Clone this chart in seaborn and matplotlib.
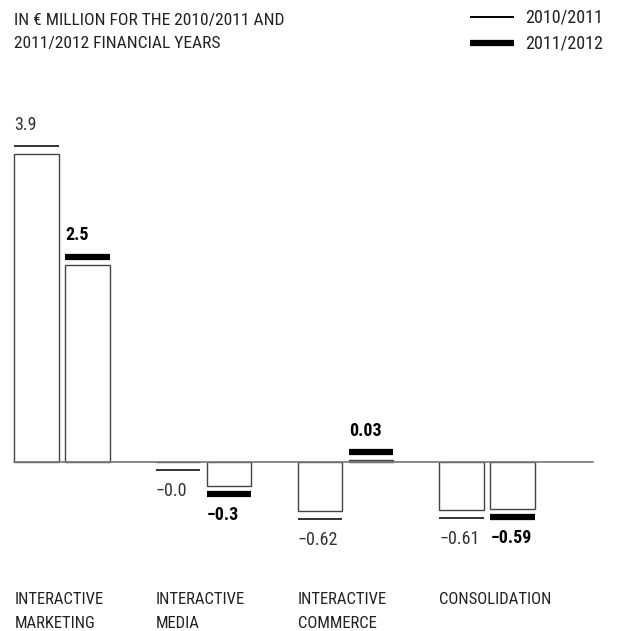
import os
import matplotlib
matplotlib.use("Agg")
import matplotlib.pyplot as plt
from matplotlib import font_manager
from matplotlib.font_manager import FontProperties
import seaborn as sns
import pandas as pd

# ---- data ----
categories = ["INTERACTIVE\nMARKETING", "INTERACTIVE\nMEDIA", "INTERACTIVE\nCOMMERCE", "CONSOLIDATION"]
years = ["2010/2011", "2011/2012"]
values_2010_2011 = [3.9, -0.0, -0.62, -0.61]
values_2011_2012 = [2.5, -0.3, 0.03, -0.59]
labels_2010_2011 = ["3.9", "\u22120.0", "\u22120.62", "\u22120.61"]
labels_2011_2012 = ["2.5", "\u22120.3", "0.03", "\u22120.59"]
title_text = "IN \u20ac MILLION FOR THE 2010/2011 AND\n2011/2012 FINANCIAL YEARS"

df = pd.DataFrame({
    "category": categories * 2,
    "year": [years[0]] * 4 + [years[1]] * 4,
    "value": values_2010_2011 + values_2011_2012,
})

sns.set_theme(style="white")
plt.rcParams["font.family"] = ["DejaVu Sans"]

# look for a condensed / narrow font file
files = [f.fname for f in font_manager.fontManager.ttflist]
reg_file, bold_file = None, None
for key in ["RobotoCondensed", "LiberationSansNarrow", "DejaVuSansCondensed", "Condensed", "Narrow"]:
    cands = [f for f in files if key.lower() in os.path.basename(f).lower().replace("-", "").replace(" ", "")]
    if not cands:
        continue
    regs = [f for f in cands if "bold" not in f.lower() and "italic" not in f.lower()
            and "oblique" not in f.lower() and "light" not in f.lower() and "black" not in f.lower()
            and "medium" not in f.lower() and "thin" not in f.lower()]
    bolds = [f for f in cands if "bold" in f.lower() and "italic" not in f.lower()
             and "oblique" not in f.lower() and "semi" not in f.lower() and "extra" not in f.lower()]
    if regs:
        reg_file = sorted(regs, key=len)[0]
        bold_file = sorted(bolds, key=len)[0] if bolds else reg_file
        break

if reg_file:
    fp_num = FontProperties(fname=reg_file, size=13)
    fp_numb = FontProperties(fname=bold_file, size=13)
    fp_txt = FontProperties(fname=reg_file, size=12)
    fp_head = FontProperties(fname=reg_file, size=12.6)
else:
    fp_num = FontProperties(family="DejaVu Sans", size=11.5)
    fp_numb = FontProperties(family="DejaVu Sans", weight="bold", size=11.5)
    fp_txt = FontProperties(family="DejaVu Sans", size=10.5)
    fp_head = FontProperties(family="DejaVu Sans", size=10.5)

fig = plt.figure(figsize=(6.17, 6.31), dpi=100)
ax = fig.add_axes([0, 0, 1, 1])

sns.barplot(data=df, x="category", y="value", hue="year", hue_order=years,
            order=categories, width=0.72, gap=0.13, ax=ax, legend=False,
            palette=["white", "white"], edgecolor="#444444",
            linewidth=1.0, errorbar=None, saturation=1)

PX = 79.0  # pixels per unit
ax.set_xlim(-62 / 141.7, (617 - 62) / 141.7)
ax.set_ylim(-(631 - 462) / PX, 462 / PX)
ax.axis("off")

# baseline
ax.plot([-0.34, 3.75], [0, 0], color="#777777", lw=1.2, zorder=1)

off_line = 8 / PX
off_lab = 21 / PX
series = [(values_2010_2011, labels_2010_2011, 1.4, fp_num, "#333333"),
          (values_2011_2012, labels_2011_2012, 4.5, fp_numb, "black")]
for hi, (vals, labs, lw, fp, col) in enumerate(series):
    cont = ax.containers[hi]
    for bar, v, lab in zip(cont.patches, vals, labs):
        x0 = bar.get_x()
        w = bar.get_width()
        neg = lab.startswith("\u2212")
        if neg:
            yl = v - off_line
            ty = yl - off_lab
        else:
            yl = v + off_line
            ty = yl + off_lab
        ax.plot([x0, x0 + w], [yl, yl], color=col, lw=lw, solid_capstyle="butt")
        ax.text(x0, ty, lab, ha="left", va="center", fontproperties=fp, color=col)

# category labels, aligned with the left edge of each bar group
first_bars = ax.containers[0].patches
for c, bar in zip(categories, first_bars):
    ax.annotate(c, xy=(bar.get_x(), 0), xycoords="data",
                xytext=(bar.get_x(), 1 - 592 / 631),
                textcoords=("data", "figure fraction"),
                ha="left", va="top", fontproperties=fp_txt, color="#222222",
                linespacing=1.75)

# header
fig.text(14 / 617, 1 - 13 / 631, title_text, ha="left", va="top",
         fontproperties=fp_head, color="#222222", linespacing=1.68)

# legend
for j, (yr, lw) in enumerate(zip(years, [1.4, 4.5])):
    yy = 1 - (17 + 26 * j) / 631
    fig.add_artist(plt.Line2D([470 / 617, 514 / 617], [yy, yy], color="black",
                              lw=lw, solid_capstyle="butt"))
    fig.text(603 / 617, yy, yr, ha="right", va="center", fontproperties=fp_num,
             color="#222222")

fig.savefig("out.png", dpi=100, facecolor="white")
